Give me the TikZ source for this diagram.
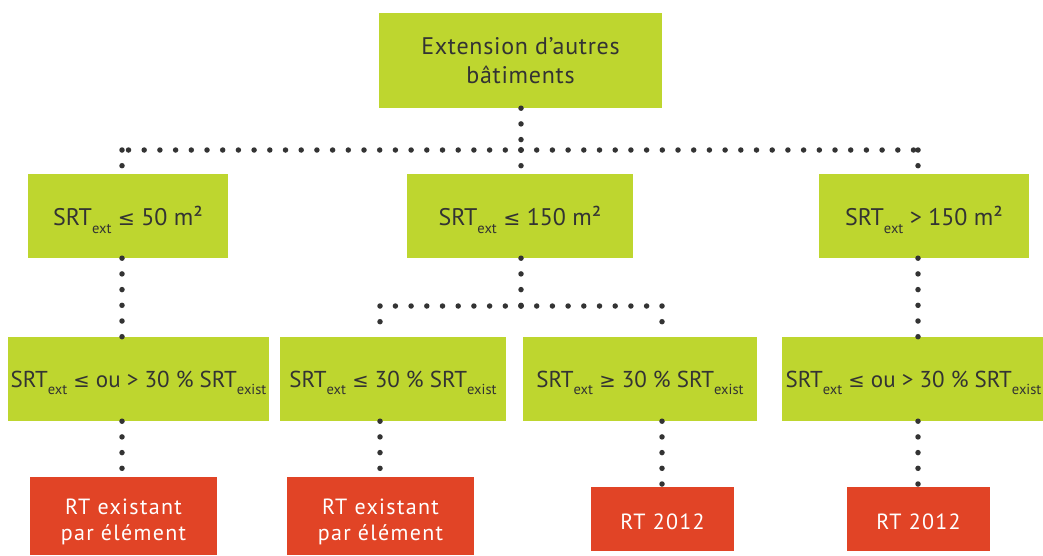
\documentclass[tikz,border=0pt]{standalone}
\usepackage{fontspec}
\setmainfont{PT Sans}
\newfontfamily\symfont{DejaVu Sans}
\definecolor{lime}{HTML}{BED62F}
\definecolor{brick}{HTML}{E14426}
\definecolor{ink}{HTML}{333333}
\newcommand{\srtsub}[1]{\smash{\raisebox{-7.5pt}{\fontsize{14.5}{15}\selectfont #1}}}
\newcommand{\lesym}{{\symfont\scalebox{0.85}{≤}}}
\newcommand{\gesym}{{\symfont\scalebox{0.85}{≥}}}
\tikzset{
  gbox/.style={fill=lime, inner sep=0pt, text=ink, font=\fontsize{24}{29}\selectfont, align=center},
  gboxs/.style={gbox, font=\fontsize{23}{29}\selectfont},
  tbox/.style={gbox, font=\fontsize{24}{29}\selectfont\addfontfeature{LetterSpace=3}},
  rbox/.style={fill=brick, inner sep=0pt, text=white, font=\fontsize{22}{26}\selectfont\addfontfeature{LetterSpace=6}, align=center},
  rone/.style={rbox, text height=20pt, text depth=0pt},
  dotline/.style={draw=ink, line width=5.5pt, line cap=round, dash pattern=on 0pt off 15.7pt}
}
\begin{document}
\begin{tikzpicture}[x=1pt,y=-1pt]
\useasboundingbox (0,0) rectangle (1043,555);
% top
\node[tbox, minimum width=283, minimum height=95] (top) at (520.5,60.5) {Extension d’autres\\bâtiments};
% row 2
\node[gbox, minimum width=200, minimum height=84] (ra) at (128,216) {SRT\srtsub{ext} \lesym{} 50 m²};
\node[gbox, minimum width=226, minimum height=84] (rb) at (520,216) {SRT\srtsub{ext} \lesym{} 150 m²};
\node[gbox, minimum width=210, minimum height=84] (rc) at (924,216) {SRT\srtsub{ext} > 150 m²};
% row 3
\node[gboxs, minimum width=261, minimum height=84] (sa) at (138.5,379) {SRT\srtsub{ext} \lesym{} ou > 30 \% SRT\srtsub{exist}};
\node[gboxs, minimum width=226, minimum height=84] (sb) at (393,379) {SRT\srtsub{ext} \lesym{} 30 \% SRT\srtsub{exist}};
\node[gboxs, minimum width=234, minimum height=84] (sc) at (640,379) {SRT\srtsub{ext} \gesym{} 30 \% SRT\srtsub{exist}};
\node[gboxs, minimum width=263, minimum height=84] (sd) at (913.5,379) {SRT\srtsub{ext} \lesym{} ou > 30 \% SRT\srtsub{exist}};
% row 4
\node[rbox, minimum width=187, minimum height=78] (ta) at (123.5,516) {\rule{0pt}{28pt}RT existant\\par élément};
\node[rbox, minimum width=187, minimum height=78] (tb) at (380.5,516) {\rule{0pt}{28pt}RT existant\\par élément};
\node[rone, minimum width=143, minimum height=64] (tc) at (662.5,519) {RT 2012};
\node[rone, minimum width=143, minimum height=64] (td) at (918.5,519) {RT 2012};
% junctions
\coordinate (j0) at (521,150);
\coordinate (jl) at (122,150);
\coordinate (jr) at (918,150);
\coordinate (m0) at (521,306);
\coordinate (ml) at (380,306);
\coordinate (mr) at (662,306);
% connectors
\draw[dotline] (top.south -| j0) -- (j0);
\draw[dotline] (j0) -- (jl);
\draw[dotline] (j0) -- (jr);
\draw[dotline] (jl) -- (jl |- ra.north);
\draw[dotline] (j0) -- (j0 |- rb.north);
\draw[dotline] (jr) -- (jr |- rc.north);
\draw[dotline] (ra.south -| jl) -- (jl |- sa.north);
\draw[dotline] (rc.south -| jr) -- (jr |- sd.north);
\draw[dotline] (rb.south -| m0) -- (m0);
\draw[dotline] (m0) -- (ml);
\draw[dotline] (m0) -- (mr);
\draw[dotline] (ml) -- (ml |- sb.north);
\draw[dotline] (mr) -- (mr |- sc.north);
\draw[dotline] (sa.south -| jl) -- (jl |- ta.north);
\draw[dotline] (sb.south -| ml) -- (ml |- tb.north);
\draw[dotline] (sc.south -| mr) -- (mr |- tc.north);
\draw[dotline] (sd.south -| jr) -- (jr |- td.north);
\end{tikzpicture}
\end{document}
